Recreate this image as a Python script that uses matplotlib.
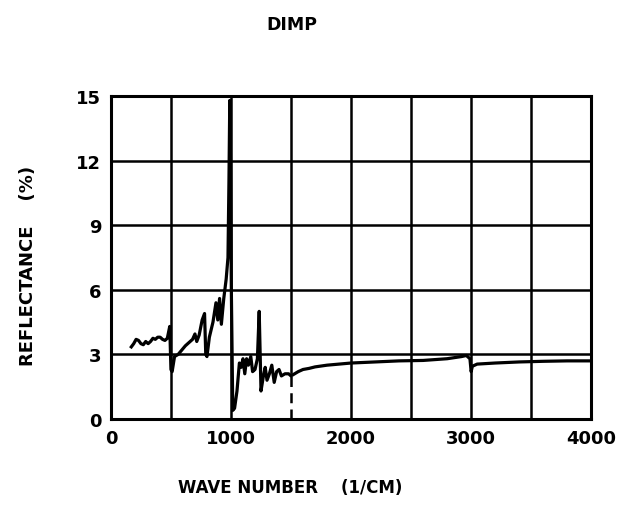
import matplotlib
matplotlib.use("Agg")
import matplotlib.pyplot as plt

# data
wavenumber = [170, 190, 210, 230, 250, 270, 290, 310, 330, 350, 370, 390, 410, 430, 450, 470, 490,
              500, 510, 530, 560, 590, 620, 650, 680, 700, 715, 735, 760, 780, 790, 800, 820, 850,
              875, 890, 905, 920, 940, 960, 975, 983, 990, 996, 1003, 1015, 1030, 1050, 1070,
              1085, 1100, 1115, 1130, 1145, 1165, 1180, 1200, 1220, 1235, 1250, 1270, 1285, 1300,
              1320, 1340, 1360, 1380, 1400, 1420, 1450, 1480, 1500, 1530, 1560, 1600, 1650, 1700,
              1800, 1900, 2000, 2200, 2400, 2600, 2800, 2920, 2960, 2990, 3000, 3010, 3050, 3200,
              3400, 3600, 3800, 4000]
reflectance = [3.35, 3.5, 3.7, 3.65, 3.5, 3.45, 3.6, 3.5, 3.6, 3.75, 3.7, 3.8, 3.8, 3.7, 3.65, 3.75, 4.3,
               2.3, 2.2, 2.9, 3.0, 3.2, 3.4, 3.55, 3.7, 3.95, 3.6, 3.9, 4.6, 4.9, 3.0, 2.9, 3.8, 4.5,
               5.4, 4.6, 5.6, 4.4, 5.6, 6.5, 7.5, 11.0, 14.8, 12.0, 6.0, 0.4, 0.5, 1.3, 2.6,
               2.4, 2.8, 2.1, 2.8, 2.5, 2.9, 2.2, 2.3, 2.8, 5.0, 1.3, 2.0, 2.4, 1.8,
               2.1, 2.5, 1.7, 2.2, 2.3, 2.0, 2.1, 2.1, 2.0, 2.1, 2.2, 2.3, 2.35, 2.42,
               2.5, 2.55, 2.6, 2.65, 2.7, 2.72, 2.8, 2.9, 2.95, 2.8, 2.2, 2.45, 2.55, 2.6,
               2.65, 2.68, 2.7, 2.7]

# instrument changeover marker (dashed part of the 1500 gridline)
join_x = [1500, 1500]
join_y = [0, 2.0]

x_ticks = [0, 500, 1000, 1500, 2000, 2500, 3000, 3500, 4000]
x_labels = ['0', '', '1000', '', '2000', '', '3000', '', '4000']
y_ticks = [0, 3, 6, 9, 12, 15]

font = {'family': 'DejaVu Sans', 'weight': 'bold'}

fig = plt.figure(figsize=(6.23, 5.06), dpi=100)
ax = fig.add_axes([0.178, 0.170, 0.771, 0.638])

ax.plot(wavenumber, reflectance, color='black', lw=2.3, solid_joinstyle='round', zorder=3)
# blank out the solid gridline below the curve, then draw it dashed
ax.plot(join_x, join_y, color='white', lw=3.0, zorder=2)
ax.plot(join_x, join_y, color='black', lw=1.8, ls=(0, (4, 2.5)), zorder=2.5)

ax.set_xlim(0, 4000)
ax.set_ylim(0, 15)
ax.set_xticks(x_ticks)
ax.set_xticklabels(x_labels, fontdict=font, fontsize=13)
ax.set_yticks(y_ticks)
ax.set_yticklabels([str(v) for v in y_ticks], fontdict=font, fontsize=13)
ax.tick_params(length=0, pad=7)
ax.set_axisbelow(True)
ax.grid(True, color='black', lw=1.8)
for s in ax.spines.values():
    s.set_linewidth(2.2)
    s.set_zorder(4)

fig.text(0.469, 0.951, 'DIMP', ha='center', va='center', fontsize=12.5, **font)
fig.text(0.466, 0.035, 'WAVE NUMBER    (1/CM)', ha='center', va='center', fontsize=12, **font)
fig.text(0.045, 0.475, 'REFLECTANCE    (%)', ha='center', va='center', rotation=90, fontsize=13, **font)

fig.savefig('out.png', dpi=100)
